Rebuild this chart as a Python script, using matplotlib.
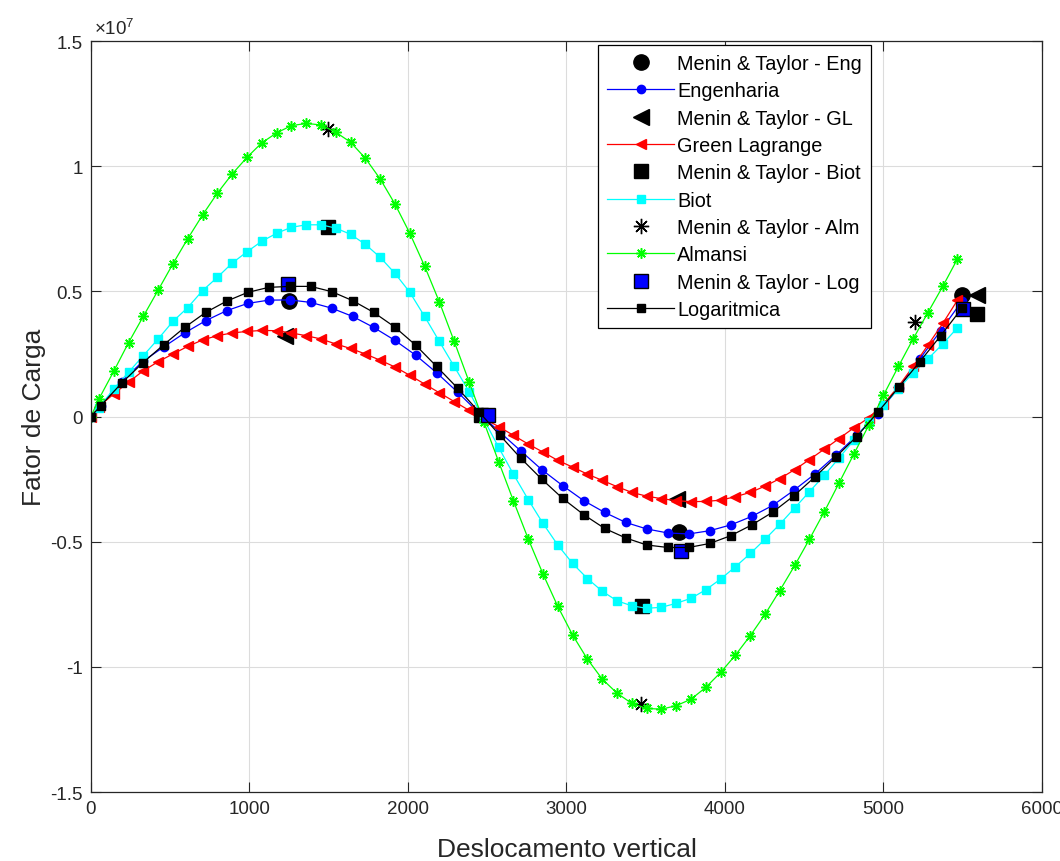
import matplotlib.pyplot as plt

plt.rcParams['font.family'] = ['Liberation Sans', 'DejaVu Sans']

# deslocamentos - passo grosso (Engenharia, Logaritmica)
x_grosso = [0, 61, 194, 326, 459, 591, 724, 856, 989, 1121, 1254, 1386, 1519, 1651,
            1784, 1916, 2049, 2181, 2314, 2446, 2579, 2711, 2844, 2976, 3109, 3241,
            3374, 3506, 3639, 3771, 3904, 4036, 4169, 4301, 4434, 4566, 4699, 4831,
            4964, 5096, 5229, 5361, 5494]
# deslocamentos - passo fino (Green Lagrange, Biot, Almansi)
x_fino = [0, 50, 143, 237, 330, 424, 517, 610, 704, 797, 891, 984, 1077, 1171, 1264,
          1358, 1451, 1544, 1638, 1731, 1825, 1918, 2011, 2105, 2198, 2292, 2385, 2478,
          2572, 2665, 2759, 2852, 2945, 3039, 3132, 3226, 3319, 3412, 3506, 3599, 3693,
          3786, 3879, 3973, 4066, 4160, 4253, 4346, 4440, 4533, 4627, 4720, 4813, 4907,
          5000, 5094, 5187, 5280, 5374, 5467]

# fator de carga (x 1e6)
engenharia = [0, 0.43, 1.40, 2.20, 2.78, 3.34, 3.83, 4.23, 4.52, 4.65, 4.66, 4.56, 4.33,
              4.00, 3.56, 3.05, 2.45, 1.75, 0.97, 0.15, -0.62, -1.37, -2.12, -2.76, -3.36,
              -3.83, -4.23, -4.49, -4.65, -4.69, -4.56, -4.33, -3.99, -3.55, -2.95, -2.30,
              -1.55, -0.75, 0.12, 1.15, 2.30, 3.43, 4.60]
logaritmica = [0, 0.43, 1.34, 2.14, 2.87, 3.56, 4.16, 4.61, 4.96, 5.16, 5.20, 5.20, 4.99,
               4.63, 4.16, 3.58, 2.85, 2.00, 1.13, 0.20, -0.74, -1.66, -2.50, -3.27, -3.92,
               -4.47, -4.85, -5.13, -5.23, -5.23, -5.07, -4.76, -4.33, -3.82, -3.17, -2.42,
               -1.62, -0.80, 0.17, 1.17, 2.19, 3.23, 4.32]
green_lagrange = [0, 0.40, 0.90, 1.37, 1.83, 2.19, 2.50, 2.80, 3.06, 3.23, 3.34, 3.40, 3.44,
                  3.43, 3.34, 3.23, 3.10, 2.90, 2.72, 2.50, 2.25, 1.98, 1.65, 1.30, 0.95,
                  0.60, 0.25, -0.08, -0.40, -0.75, -1.10, -1.42, -1.75, -2.02, -2.30, -2.55,
                  -2.80, -3.03, -3.18, -3.28, -3.36, -3.40, -3.39, -3.34, -3.20, -3.03, -2.78,
                  -2.48, -2.12, -1.72, -1.30, -0.88, -0.45, -0.05, 0.50, 1.20, 2.00, 2.85,
                  3.72, 4.65]
biot = [0, 0.35, 1.10, 1.77, 2.43, 3.10, 3.80, 4.35, 5.03, 5.56, 6.13, 6.58, 7.00, 7.32,
        7.56, 7.66, 7.66, 7.53, 7.28, 6.88, 6.36, 5.72, 4.97, 4.00, 3.00, 2.00, 1.00, -0.10,
        -1.23, -2.30, -3.32, -4.27, -5.13, -5.87, -6.47, -6.98, -7.36, -7.56, -7.66, -7.62,
        -7.46, -7.26, -6.92, -6.49, -6.00, -5.47, -4.90, -4.30, -3.65, -3.00, -2.35, -1.65,
        -0.95, -0.20, 0.45, 1.10, 1.75, 2.30, 2.90, 3.55]
almansi = [0, 0.70, 1.80, 2.95, 4.00, 5.05, 6.10, 7.10, 8.05, 8.92, 9.69, 10.35, 10.93,
           11.33, 11.62, 11.71, 11.65, 11.36, 10.96, 10.32, 9.49, 8.49, 7.33, 6.01, 4.58,
           3.00, 1.40, -0.20, -1.80, -3.36, -4.89, -6.29, -7.58, -8.73, -9.69, -10.49,
           -11.05, -11.46, -11.66, -11.69, -11.55, -11.29, -10.82, -10.22, -9.53, -8.75,
           -7.90, -6.95, -5.95, -4.90, -3.80, -2.65, -1.50, -0.35, 0.85, 2.00, 3.10, 4.15,
           5.20, 6.30]

# Menin & Taylor
mt_eng_x = [1251, 3710, 5497]
mt_eng_y = [4.63, -4.60, 4.87]
mt_gl_x = [1225, 3699, 5592]
mt_gl_y = [3.20, -3.30, 4.85]
mt_biot_x = [1497, 2460, 3474, 5588]
mt_biot_y = [7.56, 0.06, -7.56, 4.10]
mt_alm_x = [1497, 3470, 5199]
mt_alm_y = [11.49, -11.49, 3.76]
mt_log_x = [1241, 2505, 3722, 5503]
mt_log_y = [5.29, 0.06, -5.36, 4.29]

esc = 1e6
def s(v):
    return [a * esc for a in v]

asterisco = (8, 2, 0)

fig = plt.figure(figsize=(10.6, 8.62), dpi=100)
ax = fig.add_axes([0.0858, 0.0800, 0.8972, 0.8712])

ax.plot(mt_eng_x, s(mt_eng_y), 'o', color='k', ms=11, label='Menin & Taylor - Eng')
ax.plot(x_grosso, s(engenharia), '-o', color='b', lw=0.9, ms=6, label='Engenharia')
ax.plot(mt_gl_x, s(mt_gl_y), '<', color='k', ms=11, label='Menin & Taylor - GL')
ax.plot(x_fino, s(green_lagrange), '-<', color='r', lw=0.9, ms=7, label='Green Lagrange')
ax.plot(mt_biot_x, s(mt_biot_y), 's', color='k', ms=9.5, label='Menin & Taylor - Biot')
ax.plot(x_fino, s(biot), '-s', color='#00ffff', lw=0.9, ms=5.5, label='Biot')
ax.plot(mt_alm_x, s(mt_alm_y), ls='none', marker=asterisco, color='k', ms=11, mew=1,
        label='Menin & Taylor - Alm')
ax.plot(x_fino, s(almansi), '-', marker=asterisco, color='#00ff00', lw=0.9, ms=7.5, mew=1.1,
        label='Almansi')
ax.plot(mt_log_x, s(mt_log_y), 's', mfc='b', mec='k', mew=1, ms=10, label='Menin & Taylor - Log')
ax.plot(x_grosso, s(logaritmica), '-s', color='k', lw=0.9, ms=5.5, label='Logaritmica')

ax.set_xlim(0, 6000)
ax.set_ylim(-1.5e7, 1.5e7)
ax.set_xticks(range(0, 6001, 1000))
yt = [-1.5e7, -1e7, -0.5e7, 0, 0.5e7, 1e7, 1.5e7]
ax.set_yticks(yt)
ax.set_yticklabels(['-1.5', '-1', '-0.5', '0', '0.5', '1', '1.5'])

cinza = '#262626'
ax.tick_params(direction='in', top=True, right=True, length=7, width=0.8,
               labelsize=13.5, colors=cinza, pad=6)
for sp in ax.spines.values():
    sp.set_color(cinza)
    sp.set_linewidth(0.9)
ax.grid(True, color='#dcdcdc', lw=0.8)
ax.set_axisbelow(True)

ax.set_xlabel('Deslocamento vertical', fontsize=19, color=cinza, labelpad=14)
ax.set_ylabel('Fator de Carga', fontsize=19, color=cinza, labelpad=3)
ax.text(0.003, 1.004, r'$\mathregular{\times10^{7}}$', transform=ax.transAxes,
        fontsize=13.5, color=cinza, ha='left', va='bottom')

leg = ax.legend(loc='upper left', bbox_to_anchor=(0.5331, 0.9947), borderaxespad=0,
                fontsize=14.3, frameon=True, fancybox=False, framealpha=1,
                edgecolor='k', handlelength=3.4, handletextpad=0.15,
                labelspacing=0.42, borderpad=0.45)
leg.get_frame().set_linewidth(0.9)

plt.savefig('out.png', dpi=100)
